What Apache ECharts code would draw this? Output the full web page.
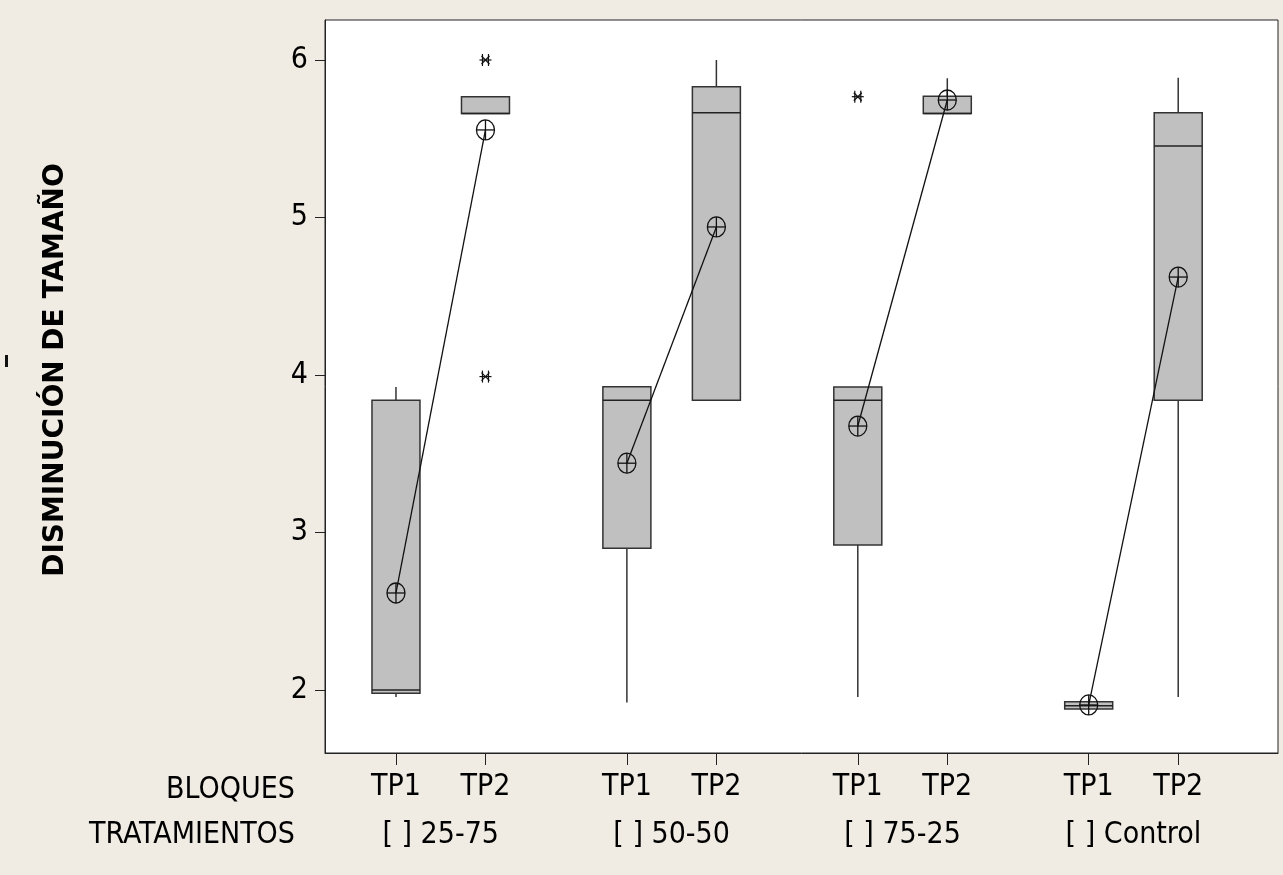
<!DOCTYPE html>
<html>
<head>
<meta charset="utf-8">
<title>Disminución de tamaño</title>
<script src="https://cdn.jsdelivr.net/npm/echarts@6/dist/echarts.min.js"></script>
<style>
	html, body { margin: 0; padding: 0; background: #F0ECE3; }
	#grafico { width: 1283px; height: 875px; }
</style>
</head>
<body>
<div id="grafico"></div>
<script>
// datos
var bloques = ['TP1', 'TP2'];
var tratamientos = ['[ ] 25-75', '[ ] 50-50', '[ ] 75-25', '[ ] Control'];
// [bigote inf, Q1, mediana, Q3, bigote sup] por caja, orden: 25-75 TP1, 25-75 TP2, 50-50 TP1 ...
var cajas = [
	[1.956, 1.98, 2.00, 3.84, 3.924],
	[5.66, 5.66, 5.66, 5.766, 5.766],
	[1.92, 2.90, 3.84, 3.926, 3.926],
	[3.84, 3.84, 5.665, 5.83, 6.00],
	[1.956, 2.92, 3.84, 3.924, 3.924],
	[5.66, 5.66, 5.66, 5.77, 5.884],
	[1.88, 1.88, 1.90, 1.926, 1.926],
	[1.956, 3.84, 5.454, 5.665, 5.888]
];
var medias = [2.616, 5.556, 3.44, 4.94, 3.676, 5.746, 1.905, 4.622];
// [indice de caja, valor]
var atipicos = [[1, 6.00], [1, 3.99], [4, 5.767]];
var marcasY = [2, 3, 4, 5, 6];

var FUENTE = "'DejaVu Sans Condensed', 'DejaVu Sans', sans-serif";
var PASO_GRUPO = 2.58;

function posX(i) {
	return Math.floor(i / 2) * PASO_GRUPO + (i % 2);
}
var posiciones = cajas.map(function (c, i) { return posX(i); });
var centrosGrupo = tratamientos.map(function (t, g) { return g * PASO_GRUPO + 0.5; });

function indiceDe(lista, v) {
	for (var i = 0; i < lista.length; i++) {
		if (Math.abs(lista[i] - v) < 1e-6) return i;
	}
	return -1;
}

function renderCaja(params, api) {
	var x = api.value(0);
	var lo = api.coord([x, api.value(1)]);
	var q1 = api.coord([x, api.value(2)]);
	var med = api.coord([x, api.value(3)]);
	var q3 = api.coord([x, api.value(4)]);
	var hi = api.coord([x, api.value(5)]);
	var w = 24;
	var borde = { stroke: '#333', lineWidth: 1.5 };
	return {
		type: 'group',
		children: [
			{ type: 'line', shape: { x1: hi[0], y1: hi[1], x2: q3[0], y2: q3[1] }, style: borde },
			{ type: 'line', shape: { x1: q1[0], y1: q1[1], x2: lo[0], y2: lo[1] }, style: borde },
			{ type: 'rect', shape: { x: q3[0] - w, y: q3[1], width: 2 * w, height: q1[1] - q3[1] },
				style: { fill: '#C0C0C0', stroke: '#333', lineWidth: 1.5 } },
			{ type: 'line', shape: { x1: med[0] - w, y1: med[1], x2: med[0] + w, y2: med[1] }, style: { stroke: '#222', lineWidth: 1.5 } }
		]
	};
}

function renderMedia(params, api) {
	var p = api.coord([api.value(0), api.value(1)]);
	var st = { stroke: '#111', lineWidth: 1.3, fill: null };
	return {
		type: 'group',
		children: [
			{ type: 'ellipse', shape: { cx: p[0], cy: p[1], rx: 9, ry: 10 }, style: st },
			{ type: 'line', shape: { x1: p[0] - 9, y1: p[1], x2: p[0] + 9, y2: p[1] }, style: st },
			{ type: 'line', shape: { x1: p[0], y1: p[1] - 10, x2: p[0], y2: p[1] + 10 }, style: st }
		]
	};
}

function renderAtipico(params, api) {
	var p = api.coord([api.value(0), api.value(1)]);
	var st = { stroke: '#111', lineWidth: 1.2 };
	var r = 6;
	return {
		type: 'group',
		children: [
			{ type: 'line', shape: { x1: p[0] - r, y1: p[1], x2: p[0] + r, y2: p[1] }, style: st },
			{ type: 'line', shape: { x1: p[0] - 3, y1: p[1] - r, x2: p[0] - 3, y2: p[1] + r }, style: st },
			{ type: 'line', shape: { x1: p[0] + 3, y1: p[1] - r, x2: p[0] + 3, y2: p[1] + r }, style: st },
			{ type: 'line', shape: { x1: p[0] - 4, y1: p[1] - 4, x2: p[0] + 4, y2: p[1] + 4 }, style: st },
			{ type: 'line', shape: { x1: p[0] - 4, y1: p[1] + 4, x2: p[0] + 4, y2: p[1] - 4 }, style: st }
		]
	};
}

var series = [
	{
		type: 'custom',
		renderItem: renderCaja,
		data: cajas.map(function (c, i) { return [posX(i)].concat(c); }),
		z: 2
	}
];
// lineas que unen las medias de cada tratamiento
for (var g = 0; g < tratamientos.length; g++) {
	series.push({
		type: 'line',
		data: [[posX(2 * g), medias[2 * g]], [posX(2 * g + 1), medias[2 * g + 1]]],
		symbol: 'none',
		lineStyle: { color: '#111', width: 1.3 },
		z: 3
	});
}
series.push({
	type: 'custom',
	renderItem: renderMedia,
	data: medias.map(function (m, i) { return [posX(i), m]; }),
	z: 4
});
series.push({
	type: 'custom',
	renderItem: renderAtipico,
	data: atipicos.map(function (a) { return [posX(a[0]), a[1]]; }),
	z: 4
});

var grafico = echarts.init(document.getElementById('grafico'));
var option = {
	animation: false,
	backgroundColor: '#F0ECE3',
	grid: {
		left: 325, right: 5, top: 20, bottom: 122,
		show: true, backgroundColor: '#fff', borderColor: '#222', borderWidth: 1
	},
	xAxis: [
		{
			type: 'value', min: -0.793, max: 9.855,
			splitLine: { show: false },
			axisLine: { show: true, onZero: false, lineStyle: { color: '#222', width: 1 } },
			axisTick: { show: true, length: 12, customValues: posiciones, lineStyle: { color: '#222' } },
			axisLabel: {
				customValues: posiciones, margin: 19,
				fontFamily: FUENTE, fontSize: 30, color: '#000',
				formatter: function (v) { var i = indiceDe(posiciones, v); return i < 0 ? '' : bloques[i % 2]; }
			}
		},
		{
			type: 'value', min: -0.793, max: 9.855, position: 'bottom',
			splitLine: { show: false },
			axisLine: { show: false, onZero: false }, axisTick: { show: false },
			axisLabel: {
				customValues: centrosGrupo, margin: 67,
				fontFamily: FUENTE, fontSize: 30, color: '#000',
				formatter: function (v) { var i = indiceDe(centrosGrupo, v); return i < 0 ? '' : tratamientos[i]; }
			}
		}
	],
	yAxis: {
		type: 'value', min: 1.6, max: 6.254,
		splitLine: { show: false },
		axisLine: { show: true, onZero: false, lineStyle: { color: '#222', width: 1 } },
		axisTick: { show: true, length: 10, customValues: marcasY, lineStyle: { color: '#222' } },
		axisLabel: { customValues: marcasY, margin: 17, fontFamily: FUENTE, fontSize: 30, color: '#000' }
	},
	graphic: [
		{ type: 'text', x: 295, y: 790, style: { text: 'BLOQUES', font: '30px ' + FUENTE, fill: '#000', align: 'right', verticalAlign: 'middle' } },
		{ type: 'text', x: 295, y: 835, style: { text: 'TRATAMIENTOS', font: '30px ' + FUENTE, fill: '#000', align: 'right', verticalAlign: 'middle' } },
		{ type: 'text', x: 56, y: 370, rotation: Math.PI / 2,
			style: { text: 'DISMINUCIÓN DE TAMAÑO', font: 'bold 28px "DejaVu Sans", sans-serif', fill: '#000', align: 'center', verticalAlign: 'middle' } },
		{ type: 'rect', shape: { x: 5, y: 355, width: 3, height: 12 }, style: { fill: '#111' } }
	],
	series: series
};
grafico.setOption(option);
</script>
</body>
</html>
